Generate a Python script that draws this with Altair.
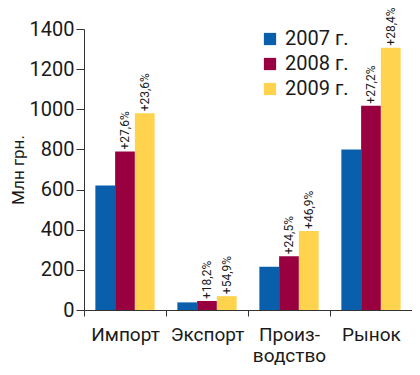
import altair as alt
import pandas as pd

categories = ["Импорт", "Экспорт", "Производство", "Рынок"]
years = ["2007 г.", "2008 г.", "2009 г."]
v2007 = [620, 38, 215, 800]
v2008 = [790, 45, 268, 1018]
v2009 = [980, 69, 394, 1307]
g2008 = ["+27,6%", "+18,2%", "+24,5%", "+27,2%"]
g2009 = ["+23,6%", "+54,9%", "+46,9%", "+28,4%"]
colors = ["#0a5fad", "#990040", "#ffd34e"]
y_ticks = [0, 200, 400, 600, 800, 1000, 1200, 1400]

rows = []
for i, c in enumerate(categories):
    rows.append(dict(cat=c, year=years[0], value=v2007[i], label=""))
    rows.append(dict(cat=c, year=years[1], value=v2008[i], label=g2008[i]))
    rows.append(dict(cat=c, year=years[2], value=v2009[i], label=g2009[i]))
df = pd.DataFrame(rows)

FONT = "Roboto"
TXT = "#1a1a1a"

x = alt.X(
    "cat:N", sort=categories, title=None,
    scale=alt.Scale(paddingInner=0, paddingOuter=0),
    axis=alt.Axis(
        labelAngle=0, tickBand="extent", tickSize=6, labelPadding=24,
        labelFontSize=19, labelFont=FONT, labelColor=TXT, labelLineHeight=21,
        labelExpr="datum.value == 'Производство' ? ['Произ-', 'водство'] : datum.value",
        domainColor="#333333", tickColor="#333333", labelBaseline="alphabetic",
    ),
)
xo = alt.XOffset("year:N", sort=years, scale=alt.Scale(paddingInner=0, paddingOuter=0.575))
y = alt.Y(
    "value:Q",
    scale=alt.Scale(domain=[0, 1400], nice=False),
    axis=alt.Axis(
        values=y_ticks, format="d", title="Млн грн.", grid=False, tickSize=8, labelPadding=2,
        labelFontSize=20, labelFont=FONT, labelColor=TXT,
        titleFontSize=17, titleFont=FONT, titleFontWeight="normal", titleColor=TXT,
        titlePadding=2, domainColor="#333333", tickColor="#333333",
    ),
)

bars = alt.Chart(df).mark_bar().encode(
    x=x, xOffset=xo, y=y,
    color=alt.Color(
        "year:N", sort=years,
        scale=alt.Scale(domain=years, range=colors),
        legend=alt.Legend(
            title=None, orient="none", legendX=176, legendY=0,
            symbolType="square", symbolSize=150, symbolStrokeWidth=0,
            labelFontSize=20, labelFont=FONT, labelColor=TXT, rowPadding=5,
            labelOffset=5, padding=0,
        ),
    ),
)

labels = alt.Chart(df).transform_filter("datum.label != ''").mark_text(
    angle=270, align="left", baseline="middle", dx=2, fontSize=12, font=FONT, color=TXT
).encode(x=x, xOffset=xo, y=y, text="label:N")

chart = alt.layer(bars, labels).properties(
    width=328, height=281,
    autosize=alt.AutoSizeParams(type="none"),
    padding={"left": 76, "top": 21, "right": 0, "bottom": 56},
).configure_view(stroke=None)

chart.save("out.html", embed_options={"renderer": "svg", "actions": False})
